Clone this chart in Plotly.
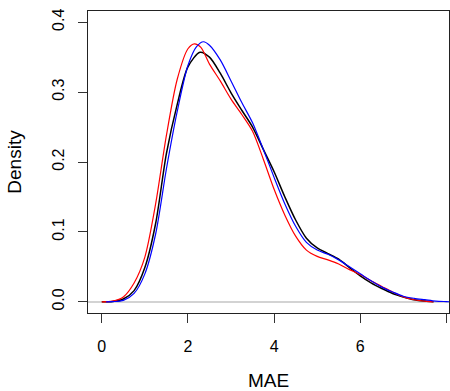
import plotly.graph_objects as go

# Density curves of MAE
x_black = [0.0, 0.25, 0.5, 0.75, 1.0, 1.25, 1.5, 1.75, 2.0, 2.28, 2.5, 2.75, 3.0, 3.25, 3.5,
           3.75, 4.0, 4.25, 4.5, 4.75, 5.0, 5.25, 5.5, 5.75, 6.0, 6.25, 6.5, 6.75, 7.0, 7.25,
           7.5, 7.7]
y_black = [0.0, 0.0005, 0.004, 0.016, 0.049, 0.112, 0.212, 0.282, 0.336, 0.357, 0.350, 0.327,
           0.299, 0.274, 0.250, 0.218, 0.186, 0.150, 0.117, 0.091, 0.077, 0.069, 0.061, 0.049,
           0.037, 0.027, 0.019, 0.012, 0.007, 0.003, 0.001, 0.0]

x_red = [0.0, 0.25, 0.5, 0.75, 1.0, 1.25, 1.5, 1.75, 2.0, 2.15, 2.3, 2.5, 2.75, 3.0, 3.25,
         3.5, 3.75, 4.0, 4.25, 4.5, 4.75, 5.0, 5.25, 5.5, 5.75, 6.0, 6.25, 6.5, 6.75, 7.0,
         7.25, 7.5, 7.7]
y_red = [0.0, 0.001, 0.007, 0.027, 0.064, 0.140, 0.238, 0.318, 0.362, 0.369, 0.364, 0.340,
         0.316, 0.290, 0.268, 0.244, 0.204, 0.161, 0.124, 0.094, 0.074, 0.065, 0.060, 0.054,
         0.046, 0.039, 0.030, 0.022, 0.014, 0.007, 0.003, 0.001, 0.0]

x_blue = [0.1, 0.25, 0.5, 0.75, 1.0, 1.25, 1.5, 1.75, 2.0, 2.2, 2.36, 2.5, 2.75, 3.0, 3.25,
          3.5, 3.75, 4.0, 4.25, 4.5, 4.75, 5.0, 5.25, 5.5, 5.75, 6.0, 6.25, 6.5, 6.75, 7.0,
          7.25, 7.5, 7.75, 8.0, 8.1]
y_blue = [0.0, 0.0003, 0.002, 0.012, 0.040, 0.097, 0.190, 0.272, 0.338, 0.365, 0.372, 0.367,
          0.346, 0.316, 0.285, 0.256, 0.218, 0.178, 0.140, 0.108, 0.085, 0.074, 0.068, 0.060,
          0.050, 0.040, 0.030, 0.021, 0.014, 0.008, 0.005, 0.003, 0.001, 0.0003, 0.0]

x_ticks = [0, 2, 4, 6, 8]
y_ticks = [0.0, 0.1, 0.2, 0.3, 0.4]
y_tick_labels = ["0.0", "0.1", "0.2", "0.3", "0.4"]

FONT = "Liberation Sans, Arial, Helvetica, sans-serif"

fig = go.Figure()
for xs, ys, col, w in [(x_black, y_black, "black", 1.5),
                       (x_red, y_red, "red", 1.2),
                       (x_blue, y_blue, "blue", 1.2)]:
    fig.add_trace(go.Scatter(x=xs, y=ys, mode="lines",
                             line=dict(color=col, width=w, shape="spline", smoothing=0.8),
                             showlegend=False, hoverinfo="skip"))

fig.update_layout(
    width=450, height=391,
    margin=dict(l=88, r=1, t=11, b=78),
    paper_bgcolor="white", plot_bgcolor="white",
    font=dict(family=FONT, size=16, color="black"),
    xaxis=dict(range=[-0.32, 8.06], tickvals=x_ticks, ticks="outside", ticklen=9,
               tickcolor="#333", showline=True, linecolor="#222", linewidth=1, mirror=True,
               showgrid=False, zeroline=False, ticklabelstandoff=10, automargin=False,
               title=dict(text="MAE", standoff=20)),
    yaxis=dict(range=[-0.016, 0.416], tickvals=y_ticks, ticktext=y_tick_labels,
               ticks="outside", ticklen=9, tickcolor="#333", tickangle=-90,
               showline=True, linecolor="#222", linewidth=1, mirror=True,
               showgrid=False, zeroline=True, zerolinecolor="#d3d3d3", zerolinewidth=1.5,
               ticklabelstandoff=8, automargin=False,
               title=dict(text="Density", standoff=22)),
)

fig.write_html("out.html", config={"displayModeBar": False},
               post_script="document.body.style.margin='0';document.body.style.padding='0';")
